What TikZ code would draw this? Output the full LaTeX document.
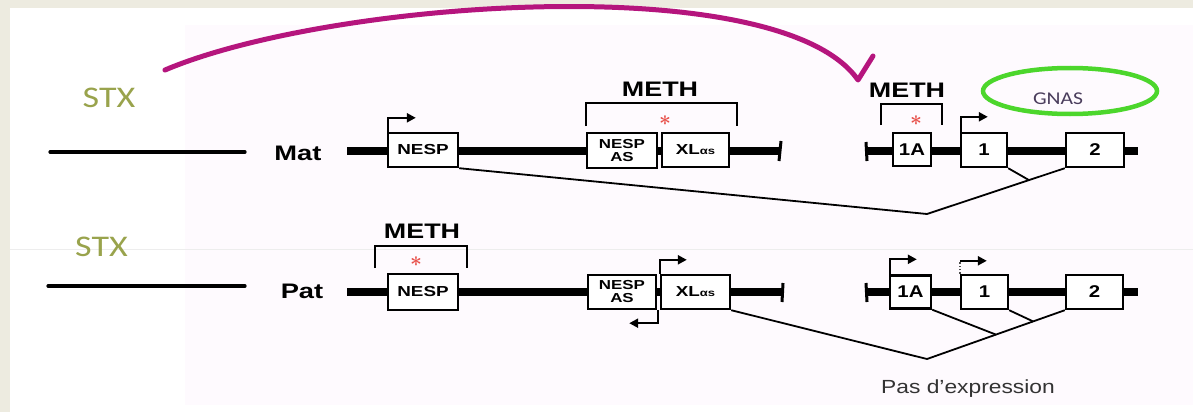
\documentclass[tikz,border=0pt]{standalone}
\usepackage{fontspec}
\setmainfont{Liberation Sans}
\newfontfamily\stxfont{Carlito}
\usetikzlibrary{arrows.meta,shapes.geometric,calc}
\definecolor{framebg}{HTML}{EDEBE0}
\definecolor{tint}{HTML}{FEFAFE}
\definecolor{stxcol}{HTML}{99A34C}
\definecolor{arccol}{HTML}{B5157D}
\definecolor{ringcol}{HTML}{4CD62C}
\definecolor{gnascol}{HTML}{4A3D5C}
\definecolor{starcol}{HTML}{E8504A}
\definecolor{notecol}{HTML}{333333}
\newcommand{\hstretch}[2][1.3]{\scalebox{#1}[1]{#2}}

\begin{document}
\begin{tikzpicture}[x=1pt,y=-1pt,
  exon/.style={draw, line width=2.4pt, fill=white, inner sep=0pt,
    align=center, font=\bfseries\fontsize{14.5}{13.5}\selectfont},
  smallexon/.style={exon, font=\bfseries\fontsize{13}{13}\selectfont},
  bigexon/.style={exon, font=\bfseries\fontsize{17}{17}\selectfont},
  dna/.style={line width=7.5pt},
  thinline/.style={line width=3.2pt, line cap=round},
  tick/.style={line width=3pt},
  bracket/.style={line width=2.6pt},
  prom/.style={line width=2.2pt, -{Triangle[length=9pt,width=9pt]}},
  splice/.style={line width=1.8pt},
  rowlabel/.style={font=\bfseries\fontsize{21}{21}\selectfont},
  methlabel/.style={font=\bfseries\fontsize{21}{21}\selectfont},
  stxlabel/.style={text=stxcol, font=\stxfont\fontsize{30}{30}\selectfont},
  star/.style={text=starcol, font=\fontsize{22}{22}\selectfont\boldmath, inner sep=0pt},
  imprint/.style={arccol, line width=5pt, line cap=round, line join=round},
]
\useasboundingbox (0,0) rectangle (1193,412);

% background and frame
\fill[white] (0,0) rectangle (1193,412);
\fill[tint] (185,25) rectangle (1193,405);
\fill[framebg] (0,0) rectangle (1193,8);
\fill[framebg] (0,0) rectangle (10,412);
\draw[black!7, line width=0.8pt] (10,249) -- (1193,249);

% ---------- maternal allele ----------
\node[stxlabel] (stxM) at (109,98) {\hstretch[1.2]{STX}};
\coordinate (thinMa) at (50,152);
\coordinate (thinMb) at (245,152);
\draw[thinline] (thinMa) -- (thinMb);
\node[rowlabel] (mat) at (298,153) {\hstretch{Mat}};

\coordinate (dnaMa) at (347,151);
\coordinate (dnaMb) at (781,151);
\coordinate (dnaMc) at (866,151);
\coordinate (dnaMd) at (1138,151);
\draw[dna] (dnaMa) -- (dnaMb);
\draw[tick] ($(dnaMb)+(0,-10)$) -- ($(dnaMb)+(-2,10)$);
\draw[dna] (dnaMc) -- (dnaMd);
\draw[tick] ($(dnaMc)+(0,-9)$) -- ($(dnaMc)+(1,10)$);

\node[exon, minimum width=70pt, minimum height=34pt] (nespM) at (423,150) {\hstretch{NESP}};
\node[smallexon, minimum width=70pt, minimum height=35pt] (nespasM) at (622,150.5) {\hstretch{NESP}\\\hstretch{AS}};
\node[exon, minimum width=67pt, minimum height=34pt] (xlM) at (695.5,150) {\hstretch{XL{\fontsize{10}{10}\selectfont αs}}};
\node[bigexon, minimum width=38pt, minimum height=33pt] (oneAM) at (912,149.5) {\hstretch[1.2]{1A}};
\node[bigexon, minimum width=46pt, minimum height=34pt] (oneM) at (984,150) {\hstretch[1.2]{1}};
\node[bigexon, minimum width=58pt, minimum height=34pt] (twoM) at (1095,150) {\hstretch[1.2]{2}};

% promoters
\draw[prom] ($(nespM.north west)+(1,0)$) -- ++(0,-14) -- ++(28,0);
\draw[prom] ($(oneM.north west)+(1,0)$) -- ++(0,-15) -- ++(27,0);

% methylation marks
\node[methlabel] (methM1) at (660,89.5) {\hstretch[1.28]{METH}};
\draw[bracket] (586,126) -- (586,103) -- (737,103) -- (737,126);
\node[star] (starM1) at (665,121) {$\ast$};
\node[methlabel] (methM2) at (907,90) {\hstretch[1.28]{METH}};
\draw[bracket] (881,125) -- (881,104) -- (942,104) -- (942,125);
\node[star] (starM2) at (916,121) {$\ast$};

% GNAS
\node[ellipse, draw=ringcol, line width=4.5pt, minimum width=174pt, minimum height=46pt] (gnasring) at (1070,91) {};
\node[text=gnascol, font=\stxfont\fontsize{18}{18}\selectfont] (gnas) at (1058,99) {\hstretch[1.2]{GNAS}};

% splicing
\coordinate (vM) at (927,214);
\draw[splice] (nespM.south east) -- (vM) -- (twoM.south west);
\draw[splice] (oneM.south east) -- ($(vM)!0.74!(twoM.south west)$);

% ---------- paternal allele ----------
\node[stxlabel] (stxP) at (101.5,247) {\hstretch[1.2]{STX}};
\coordinate (thinPa) at (48,286);
\coordinate (thinPb) at (245,286);
\draw[thinline] (thinPa) -- (thinPb);
\node[rowlabel] (pat) at (302,291) {\hstretch{Pat}};

\coordinate (dnaPa) at (347,292);
\coordinate (dnaPb) at (783,292);
\coordinate (dnaPc) at (866,292);
\coordinate (dnaPd) at (1138,292);
\draw[dna] (dnaPa) -- (dnaPb);
\draw[tick] ($(dnaPb)+(0,-9)$) -- ($(dnaPb)+(-1,10)$);
\draw[dna] (dnaPc) -- (dnaPd);
\draw[tick] ($(dnaPc)+(0,-9)$) -- ($(dnaPc)+(1,10)$);

\node[exon, minimum width=70pt, minimum height=36pt] (nespP) at (423,292) {\hstretch{NESP}};
\node[smallexon, minimum width=68pt, minimum height=34pt] (nespasP) at (622,292) {\hstretch{NESP}\\\hstretch{AS}};
\node[exon, minimum width=69pt, minimum height=34pt] (xlP) at (695.5,292) {\hstretch{XL{\fontsize{10}{10}\selectfont αs}}};
\node[bigexon, minimum width=41pt, minimum height=33pt] (oneAP) at (910.5,292) {\hstretch[1.2]{1A}};
\node[bigexon, minimum width=47pt, minimum height=34pt] (oneP) at (984.5,292) {\hstretch[1.2]{1}};
\node[bigexon, minimum width=57pt, minimum height=34pt] (twoP) at (1094.5,292) {\hstretch[1.2]{2}};

% promoters
\draw[prom] (xlP.north west) -- ++(0,-14) -- ++(27,0);
\draw[prom] ($(nespasP.south east)+(1,0)$) -- ++(0,13) -- ++(-29,0);
\draw[prom] ($(oneAP.north west)+(1,0)$) -- ++(0,-15) -- ++(27,0);
\draw[line width=1.4pt, dotted, black!70] (oneP.north west) -- ++(0,-13);
\draw[prom] ($(oneP.north west)+(0,-13)$) -- ++(27,0);

% methylation mark
\node[methlabel] (methP) at (422,231) {\hstretch[1.28]{METH}};
\draw[bracket] (375,268) -- (375,246) -- (467,246) -- (467,268);
\node[star] (starP) at (416,262) {$\ast$};

% splicing
\coordinate (vP) at (927,359);
\draw[splice] (xlP.south east) -- (vP) -- (twoP.south west);
\draw[splice] (oneAP.south east) -- ($(vP)!0.5!(twoP.south west)$);
\draw[splice] (oneP.south east) -- ($(vP)!0.77!(twoP.south west)$);
\node[text=notecol, anchor=base, font=\fontsize{19}{19}\selectfont] (noexpr) at (968,393) {\hstretch[1.2]{Pas d'expression}};

% imprinting arrow
\coordinate (arcStart) at (165,70);
\coordinate (arcEnd) at (858,80);
\coordinate (arcTip) at (873,56);
\draw[imprint] (arcStart) .. controls (330,0) and (780,-32) .. (arcEnd) -- (arcTip);
\end{tikzpicture}
\end{document}
